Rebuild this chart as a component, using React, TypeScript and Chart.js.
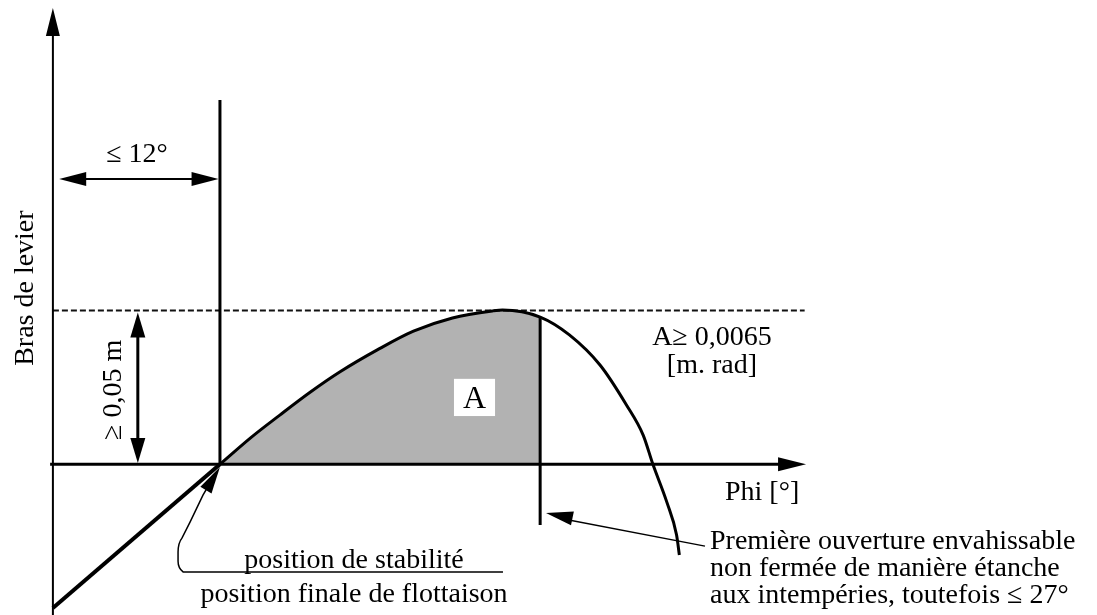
import React, { useEffect, useRef } from "react";
import { Chart, registerables } from "chart.js";
Chart.register(...registerables);

// Righting lever curve (phi in degrees, GZ in metres)
const curvePhi = [12, 14.2, 16.3, 18.5, 20.6, 23.3, 25.9, 28.7, 31.6, 32.3, 35, 37.1, 39.3, 41.2, 42.4, 43.1, 44.1, 44.8, 45];
const curveGz = [0, 0.0086, 0.016, 0.0235, 0.03, 0.0372, 0.0433, 0.0476, 0.0499, 0.0502, 0.0479, 0.0421, 0.0323, 0.0193, 0.0095, 0, -0.0123, -0.023, -0.0295];
// straight part below the equilibrium position
const linePhi = [0, 12];
const lineGz = [-0.0467, 0];

const phiStable = 12; // position de stabilité
const phiOpening = 35; // première ouverture envahissable
const gzRequired = 0.05;

const xMin = -3.8, xMax = 75;
const yMin = -0.049, yMax = 0.151;
const axisEnd = 54;

const FONT = '"Liberation Serif", "Times New Roman", serif';

const pts = (xs: number[], ys: number[]) => xs.map((x, i) => ({ x, y: ys[i] }));

function head(ctx: CanvasRenderingContext2D, tx: number, ty: number, fx: number, fy: number, len: number, hw: number) {
  const dx = tx - fx, dy = ty - fy;
  const d = Math.hypot(dx, dy) || 1;
  const ux = dx / d, uy = dy / d;
  const bx = tx - ux * len, by = ty - uy * len;
  ctx.beginPath();
  ctx.moveTo(tx, ty);
  ctx.lineTo(bx - uy * hw, by + ux * hw);
  ctx.lineTo(bx + uy * hw, by - ux * hw);
  ctx.closePath();
  ctx.fill();
}

const annotations = {
  id: "annotations",
  afterDatasetsDraw(chart: any) {
    const ctx: CanvasRenderingContext2D = chart.ctx;
    const xs = chart.scales.x, ys = chart.scales.y;
    const X = (v: number) => xs.getPixelForValue(v);
    const Y = (v: number) => ys.getPixelForValue(v);
    ctx.save();
    ctx.fillStyle = "#000";
    ctx.strokeStyle = "#000";

    // axis arrow heads
    head(ctx, X(0), Y(0.1484), X(0), Y(0), 28, 7);
    head(ctx, X(axisEnd + 0.1), Y(0), X(0), Y(0), 28, 7);

    // ≤ 12° double arrow
    ctx.lineWidth = 2;
    ctx.beginPath();
    ctx.moveTo(X(1.5), Y(0.0928));
    ctx.lineTo(X(phiStable - 1.5), Y(0.0928));
    ctx.stroke();
    head(ctx, X(0.45), Y(0.0928), X(phiStable), Y(0.0928), 27, 7);
    head(ctx, X(phiStable - 0.1), Y(0.0928), X(0), Y(0.0928), 27, 7);

    // ≥ 0,05 m double arrow
    ctx.lineWidth = 3;
    ctx.beginPath();
    ctx.moveTo(X(6.1), Y(0.045));
    ctx.lineTo(X(6.1), Y(0.004));
    ctx.stroke();
    head(ctx, X(6.1), Y(0.0494), X(6.1), Y(0), 25, 7.5);
    head(ctx, X(6.1), Y(0.0004), X(6.1), Y(0.05), 25, 7.5);

    // leader to opening line
    ctx.lineWidth = 1.5;
    ctx.beginPath();
    ctx.moveTo(X(46.84), Y(-0.0266));
    ctx.lineTo(X(36.5), Y(-0.0176));
    ctx.stroke();
    head(ctx, X(35.42), Y(-0.0158), X(46.84), Y(-0.0266), 27, 7);

    // curved leader to stable position
    ctx.lineWidth = 1.5;
    ctx.beginPath();
    ctx.moveTo(X(32.33), Y(-0.035));
    ctx.lineTo(X(9.35), Y(-0.035));
    ctx.quadraticCurveTo(X(8.99), Y(-0.0337), X(8.99), Y(-0.0315));
    ctx.lineTo(X(8.99), Y(-0.0285));
    ctx.quadraticCurveTo(X(9.0), Y(-0.0255), X(9.27), Y(-0.024));
    ctx.lineTo(X(9.85), Y(-0.0188));
    ctx.lineTo(X(10.78), Y(-0.01));
    ctx.lineTo(X(11.4), Y(-0.0052));
    ctx.stroke();
    head(ctx, X(12.0), Y(-0.0009), X(10.78), Y(-0.01), 27, 6.5);

    // texts
    ctx.font = `28px ${FONT}`;
    ctx.textBaseline = "alphabetic";
    ctx.textAlign = "center";
    ctx.fillText("≤ 12°", X(6.04), Y(0.0983));

    ctx.save();
    ctx.translate(X(-1.43), Y(0.0573));
    ctx.rotate(-Math.PI / 2);
    ctx.fillText("Bras de levier", 0, 0);
    ctx.restore();

    ctx.save();
    ctx.translate(X(4.89), Y(0.0242));
    ctx.rotate(-Math.PI / 2);
    ctx.fillText("≥ 0,05 m", 0, 0);
    ctx.restore();

    // A box
    ctx.fillStyle = "#fff";
    ctx.fillRect(X(28.81), Y(0.0278), X(31.76) - X(28.81), Y(0.0157) - Y(0.0278));
    ctx.fillStyle = "#000";
    ctx.font = `32px ${FONT}`;
    ctx.fillText("A", X(30.28), Y(0.0183));

    ctx.font = `28px ${FONT}`;
    ctx.fillText("A≥ 0,0065", X(47.34), Y(0.0388));
    ctx.fillText("[m. rad]", X(47.34), Y(0.0297));

    ctx.fillText("position de stabilité", X(21.63), Y(-0.0337));
    ctx.fillText("position finale de flottaison", X(21.63), Y(-0.0448));

    ctx.textAlign = "left";
    ctx.fillText("Phi [°]", X(48.28), Y(-0.0116));
    ctx.fillText("Première ouverture envahissable", X(47.2), Y(-0.0275));
    ctx.fillText("non fermée de manière étanche", X(47.2), Y(-0.0363));
    ctx.fillText("aux intempéries, toutefois ≤ 27°", X(47.2), Y(-0.0451));
    ctx.restore();
  },
};

export default function App() {
  const ref = useRef<HTMLCanvasElement>(null);
  useEffect(() => {
    if (!ref.current) return;
    const curve = pts(curvePhi, curveGz);
    const area = curve.filter((p) => p.x <= phiOpening);
    const openingGz = curveGz[curvePhi.indexOf(phiOpening)];
    const chart = new Chart(ref.current, {
      type: "scatter",
      data: {
        datasets: [
          { data: pts(linePhi, lineGz), showLine: true, borderColor: "#000", borderWidth: 4, pointRadius: 0 },
          { data: curve, showLine: true, borderColor: "#000", borderWidth: 3, pointRadius: 0, cubicInterpolationMode: "monotone" },
          { data: [{ x: phiStable, y: 0.1185 }, { x: phiStable, y: 0 }], showLine: true, borderColor: "#000", borderWidth: 3, pointRadius: 0 },
          { data: [{ x: phiOpening, y: openingGz }, { x: phiOpening, y: -0.0197 }], showLine: true, borderColor: "#000", borderWidth: 3, pointRadius: 0 },
          { data: [{ x: -0.2, y: 0 }, { x: axisEnd - 1.5, y: 0 }], showLine: true, borderColor: "#000", borderWidth: 3, pointRadius: 0 },
          { data: [{ x: 0, y: yMin }, { x: 0, y: 0.142 }], showLine: true, borderColor: "#000", borderWidth: 2, pointRadius: 0 },
          { data: [{ x: 0, y: gzRequired }, { x: axisEnd, y: gzRequired }], showLine: true, borderColor: "#111", borderWidth: 2, borderDash: [6, 3], pointRadius: 0 },
          { data: area, showLine: true, borderWidth: 0, borderColor: "rgba(0,0,0,0)", backgroundColor: "#b2b2b2", fill: "origin", pointRadius: 0, cubicInterpolationMode: "monotone", order: 10 } as any,
        ],
      },
      options: {
        responsive: false,
        devicePixelRatio: 1,
        animation: false,
        layout: { padding: 0 },
        plugins: { legend: { display: false }, tooltip: { enabled: false } },
        scales: {
          x: { type: "linear", min: xMin, max: xMax, display: false },
          y: { type: "linear", min: yMin, max: yMax, display: false },
        },
      },
      plugins: [annotations],
    });
    return () => chart.destroy();
  }, []);
  return (
    <div style={{ position: "fixed", left: 0, top: 0, width: 1097, height: 615, background: "#fff" }}>
      <canvas ref={ref} width={1097} height={615} />
    </div>
  );
}
